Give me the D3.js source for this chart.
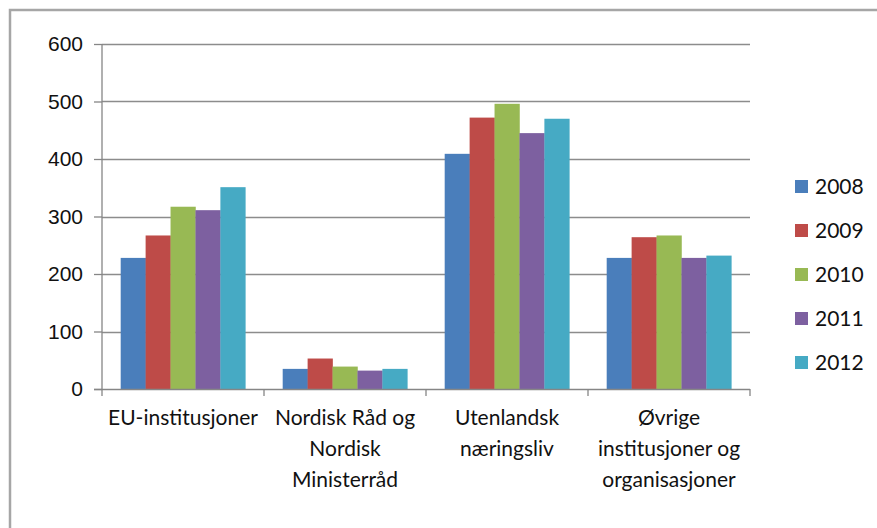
<!DOCTYPE html>
<html>

<head>
    <meta charset="utf-8">
    <title>chart</title>
    <script src="https://cdn.jsdelivr.net/npm/d3@7"></script>
    <style>
        body {
            margin: 0;
            background: #fff;
        }

        svg {
            font-family: Lato, "Open Sans", sans-serif;
        }

        .axis path,
        .axis line {
            stroke: #868686;
            stroke-width: 1.3px;
        }

        .grid line {
            stroke: #8c8c8c;
            stroke-width: 1.3px;
        }

        .axis text,
        .legend text {
            fill: #111;
            font-size: 21px;
        }
    </style>
</head>

<body>
    <script>
        // chart data
        let categories = ["EU-institusjoner", "Nordisk Råd og Nordisk Ministerråd", "Utenlandsk næringsliv", "Øvrige institusjoner og organisasjoner"];
        let categoryLines = [
            ["EU-institusjoner"],
            ["Nordisk Råd og", "Nordisk", "Ministerråd"],
            ["Utenlandsk", "næringsliv"],
            ["Øvrige", "institusjoner og", "organisasjoner"]
        ];
        let years = ["2008", "2009", "2010", "2011", "2012"];
        let v2008 = [228, 35, 409, 228];
        let v2009 = [267, 53, 472, 264];
        let v2010 = [317, 39, 496, 267];
        let v2011 = [311, 32, 445, 228];
        let v2012 = [351, 35, 470, 232];
        let yTicks = [0, 100, 200, 300, 400, 500, 600];
        let colors = ["#4a7ebb", "#be4b48", "#98b954", "#7d60a0", "#46aac4"];

        let series = [v2008, v2009, v2010, v2011, v2012];

        let width = 877;
        let height = 528;

        let svg = d3.select("body").append("svg")
            .attr("width", width)
            .attr("height", height);

        // outer frame (only top and left edges are visible)
        svg.append("path")
            .attr("d", "M10," + height + "V10H" + width)
            .attr("fill", "none")
            .attr("stroke", "#a6a6a6")
            .attr("stroke-width", 2.5);

        let x = d3.scaleBand()
            .domain(categories)
            .range([102, 750]);

        // Excel style gap: 5 bars + 1.5 bar gap per category
        let xInner = d3.scaleBand()
            .domain(years)
            .range([0, x.bandwidth()])
            .paddingOuter(0.75);

        let y = d3.scaleLinear()
            .domain([0, 600])
            .range([389, 44]);

        // gridlines
        svg.append("g")
            .attr("class", "grid")
            .selectAll("line")
            .data(yTicks.filter(d => d > 0))
            .join("line")
            .attr("x1", 102)
            .attr("x2", 750)
            .attr("y1", d => Math.round(y(d)) + 0.5)
            .attr("y2", d => Math.round(y(d)) + 0.5);

        // bars
        svg.append("g")
            .selectAll("g")
            .data(series)
            .join("g")
            .attr("fill", (d, i) => colors[i])
            .selectAll("rect")
            .data((d, i) => d.map((v, j) => ({ v: v, c: categories[j], s: years[i] })))
            .join("rect")
            .attr("x", d => x(d.c) + xInner(d.s))
            .attr("width", xInner.bandwidth() + 0.3)
            .attr("y", d => y(d.v))
            .attr("height", d => y(0) - y(d.v));

        // y axis
        let yAxis = d3.axisLeft(y)
            .tickValues(yTicks)
            .tickSize(8)
            .tickPadding(11);
        svg.append("g")
            .attr("class", "y axis")
            .attr("transform", "translate(102,0)")
            .call(yAxis)
            .call(g => g.select(".domain").attr("d", "M0,44V389"));

        // x axis with ticks at category boundaries
        let xg = svg.append("g")
            .attr("class", "x axis")
            .attr("transform", "translate(0,389)");
        xg.append("line")
            .attr("x1", 94)
            .attr("x2", 750)
            .attr("y1", 0.5)
            .attr("y2", 0.5);
        let bounds = categories.map(d => x(d)).concat([x.range()[1]]);
        xg.selectAll(".bound")
            .data(bounds)
            .join("line")
            .attr("class", "bound")
            .attr("x1", d => d)
            .attr("x2", d => d)
            .attr("y1", 0)
            .attr("y2", 7);

        xg.selectAll(".lbl")
            .data(categories)
            .join("text")
            .attr("class", "lbl")
            .attr("text-anchor", "middle")
            .attr("x", d => x(d) + x.bandwidth() / 2)
            .selectAll("tspan")
            .data((d, i) => categoryLines[i])
            .join("tspan")
            .attr("x", function () { return d3.select(this.parentNode).attr("x"); })
            .attr("y", (d, i) => 36 + i * 31)
            .text(d => d);

        // legend
        let legend = svg.append("g")
            .attr("class", "legend")
            .selectAll("g")
            .data(years)
            .join("g")
            .attr("transform", (d, i) => "translate(795," + (186 + i * 44) + ")");
        legend.append("rect")
            .attr("x", 0)
            .attr("y", -6)
            .attr("width", 13)
            .attr("height", 13)
            .attr("fill", (d, i) => colors[i]);
        legend.append("text")
            .attr("x", 20)
            .attr("dy", "0.36em")
            .text(d => d);
    </script>
</body>

</html>
